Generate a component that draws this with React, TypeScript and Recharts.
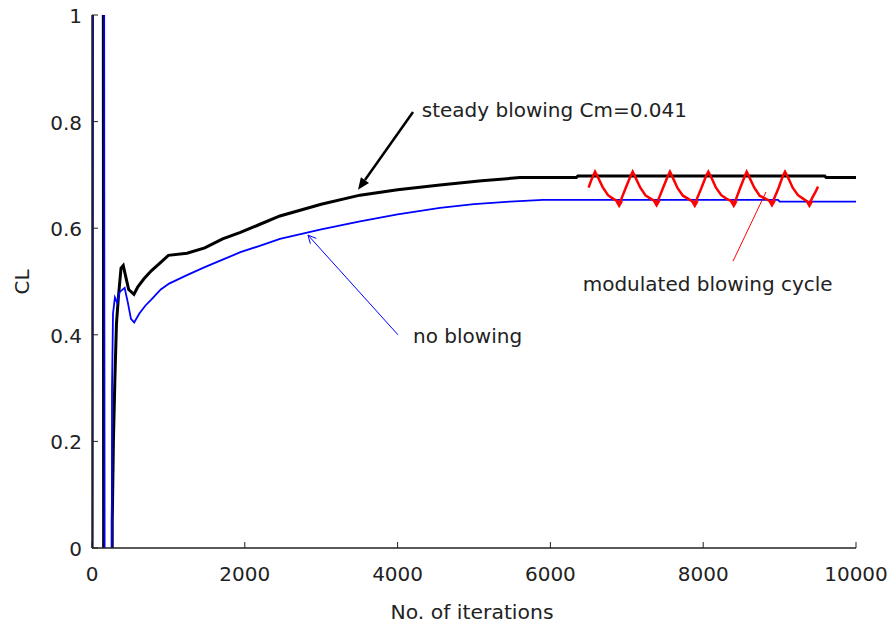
import React from 'react';
import { LineChart, Line, XAxis, YAxis, ReferenceLine, ReferenceDot } from 'recharts';

const FONT = '"DejaVu Sans", Verdana, sans-serif';
const INK = '#222';

const xTicks = [0, 2000, 4000, 6000, 8000, 10000];
const yTicks = [0, 0.2, 0.4, 0.6, 0.8, 1];

const steadyBlowing = [
  { it: 0, cl: -0.3 }, { it: 12, cl: 3 }, { it: 140, cl: 3 }, { it: 165, cl: -3 },
  { it: 250, cl: -2 }, { it: 265, cl: 0.05 }, { it: 280, cl: 0.2 }, { it: 300, cl: 0.32 },
  { it: 320, cl: 0.42 }, { it: 345, cl: 0.47 }, { it: 380, cl: 0.525 }, { it: 409, cl: 0.53 },
  { it: 440, cl: 0.51 }, { it: 480, cl: 0.485 }, { it: 549, cl: 0.476 }, { it: 600, cl: 0.49 },
  { it: 680, cl: 0.505 }, { it: 776, cl: 0.52 }, { it: 900, cl: 0.536 }, { it: 1000, cl: 0.549 },
  { it: 1243, cl: 0.553 }, { it: 1476, cl: 0.563 }, { it: 1710, cl: 0.58 }, { it: 1943, cl: 0.592 },
  { it: 2176, cl: 0.606 }, { it: 2460, cl: 0.623 }, { it: 3000, cl: 0.645 }, { it: 3508, cl: 0.662 },
  { it: 4000, cl: 0.672 }, { it: 4555, cl: 0.681 }, { it: 5100, cl: 0.689 }, { it: 5602, cl: 0.695 },
  { it: 6340, cl: 0.695 }, { it: 6360, cl: 0.698 }, { it: 9590, cl: 0.698 }, { it: 9610, cl: 0.695 },
  { it: 10000, cl: 0.695 },
];

const noBlowing = [
  { it: 0, cl: -0.3 }, { it: 15, cl: 3 }, { it: 150, cl: 3 }, { it: 178, cl: -3 },
  { it: 245, cl: -3 }, { it: 262, cl: 0.3 }, { it: 275, cl: 0.44 }, { it: 300, cl: 0.47 },
  { it: 330, cl: 0.46 }, { it: 360, cl: 0.48 }, { it: 427, cl: 0.488 }, { it: 470, cl: 0.46 },
  { it: 510, cl: 0.43 }, { it: 552, cl: 0.423 }, { it: 620, cl: 0.44 }, { it: 700, cl: 0.455 },
  { it: 776, cl: 0.466 }, { it: 900, cl: 0.485 }, { it: 1009, cl: 0.496 }, { it: 1243, cl: 0.512 },
  { it: 1476, cl: 0.527 }, { it: 1710, cl: 0.541 }, { it: 1943, cl: 0.555 }, { it: 2176, cl: 0.566 },
  { it: 2460, cl: 0.58 }, { it: 3000, cl: 0.598 }, { it: 3508, cl: 0.613 }, { it: 4000, cl: 0.626 },
  { it: 4555, cl: 0.638 }, { it: 5000, cl: 0.645 }, { it: 5471, cl: 0.65 }, { it: 5903, cl: 0.653 },
  { it: 8980, cl: 0.653 }, { it: 9000, cl: 0.65 }, { it: 10000, cl: 0.65 },
];

const modulatedBlowing = [
  { it: 6500, cl: 0.676 }, { it: 6540, cl: 0.692 }, { it: 6584, cl: 0.706 }, { it: 6624, cl: 0.695 },
  { it: 6684, cl: 0.677 }, { it: 6754, cl: 0.662 }, { it: 6824, cl: 0.655 }, { it: 6874, cl: 0.651 },
  { it: 6900, cl: 0.645 }, { it: 6929, cl: 0.655 }, { it: 6984, cl: 0.675 }, { it: 7044, cl: 0.696 },
  { it: 7077, cl: 0.706 }, { it: 7117, cl: 0.694 }, { it: 7177, cl: 0.676 }, { it: 7247, cl: 0.661 },
  { it: 7317, cl: 0.655 }, { it: 7367, cl: 0.651 }, { it: 7390, cl: 0.646 }, { it: 7420, cl: 0.656 },
  { it: 7475, cl: 0.676 }, { it: 7535, cl: 0.697 }, { it: 7565, cl: 0.706 }, { it: 7605, cl: 0.694 },
  { it: 7665, cl: 0.675 }, { it: 7735, cl: 0.661 }, { it: 7805, cl: 0.655 }, { it: 7860, cl: 0.65 },
  { it: 7890, cl: 0.645 }, { it: 7920, cl: 0.656 }, { it: 7975, cl: 0.675 }, { it: 8035, cl: 0.697 },
  { it: 8067, cl: 0.706 }, { it: 8107, cl: 0.695 }, { it: 8167, cl: 0.676 }, { it: 8237, cl: 0.662 },
  { it: 8307, cl: 0.655 }, { it: 8370, cl: 0.651 }, { it: 8400, cl: 0.645 }, { it: 8430, cl: 0.655 },
  { it: 8485, cl: 0.676 }, { it: 8540, cl: 0.696 }, { it: 8569, cl: 0.706 }, { it: 8609, cl: 0.694 },
  { it: 8669, cl: 0.676 }, { it: 8739, cl: 0.661 }, { it: 8809, cl: 0.656 }, { it: 8870, cl: 0.651 },
  { it: 8900, cl: 0.646 }, { it: 8930, cl: 0.656 }, { it: 8985, cl: 0.675 }, { it: 9040, cl: 0.697 },
  { it: 9071, cl: 0.706 }, { it: 9111, cl: 0.695 }, { it: 9171, cl: 0.676 }, { it: 9241, cl: 0.662 },
  { it: 9311, cl: 0.655 }, { it: 9365, cl: 0.65 }, { it: 9390, cl: 0.645 }, { it: 9420, cl: 0.655 },
  { it: 9470, cl: 0.668 }, { it: 9503, cl: 0.678 },
];

const modulatedTroughs = [6900, 7390, 7890, 8400, 8900, 9390];

const arrowSteady = [{ x: 4202, y: 0.818 }, { x: 3482, y: 0.672 }];
const arrowNone = [{ x: 4005, y: 0.4 }, { x: 2827, y: 0.587 }];
const arrowModulated = [{ x: 8390, y: 0.538 }, { x: 8822, y: 0.668 }];

const labelSteady = { text: 'steady blowing Cm=0.041', it: 4316, cl: 0.809 };
const labelNone = { text: 'no blowing', it: 4202, cl: 0.385 };
const labelModulated = { text: 'modulated blowing cycle', it: 6423, cl: 0.483 };

const BottomTick = (p: any) => (
  <g>
    <line x1={p.x} y1={p.y} x2={p.x} y2={p.y - 6} stroke={INK} strokeWidth={1} />
    <text x={p.x} y={p.y + 33} textAnchor="middle" fontSize={20} fontFamily={FONT} fill={INK}>
      {String(p.payload.value)}
    </text>
  </g>
);
const TopTick = (p: any) => (
  <line x1={p.x} y1={p.y} x2={p.x} y2={p.y + 6} stroke={INK} strokeWidth={1} />
);
const LeftTick = (p: any) => (
  <g>
    <line x1={p.x} y1={p.y} x2={p.x + 6} y2={p.y} stroke={INK} strokeWidth={1} />
    <text x={p.x - 10} y={p.y + 8} textAnchor="end" fontSize={20} fontFamily={FONT} fill={INK}>
      {String(p.payload.value)}
    </text>
  </g>
);
const RightTick = (p: any) => (
  <line x1={p.x} y1={p.y} x2={p.x - 6} y2={p.y} stroke={INK} strokeWidth={1} />
);

const makeArrow = (color: string, width: number, head: 'filled' | 'open' | 'none') => (p: any) => {
  const { x1, y1, x2, y2 } = p;
  const ang = Math.atan2(y2 - y1, x2 - x1);
  const L = head === 'filled' ? 12 : 8;
  const W = head === 'filled' ? 5 : 4;
  const bx = x2 - L * Math.cos(ang);
  const by = y2 - L * Math.sin(ang);
  const nx = -Math.sin(ang) * W;
  const ny = Math.cos(ang) * W;
  return (
    <g>
      <line x1={x1} y1={y1} x2={head === 'filled' ? bx : x2} y2={head === 'filled' ? by : y2} stroke={color} strokeWidth={width} />
      {head === 'filled' && (
        <polygon points={`${x2},${y2} ${bx + nx},${by + ny} ${bx - nx},${by - ny}`} fill={color} />
      )}
      {head === 'open' && (
        <polyline points={`${bx + nx},${by + ny} ${x2},${y2} ${bx - nx},${by - ny}`} fill="none" stroke={color} strokeWidth={width} />
      )}
    </g>
  );
};

const makeText = (text: string) => (p: any) => (
  <text x={p.cx} y={p.cy} fontSize={20} fontFamily={FONT} fill={INK}>
    {text}
  </text>
);

const TroughDot = (p: any) => {
  if (!p.payload || !modulatedTroughs.includes(p.payload.it)) return <g key={p.index} />;
  const { cx, cy } = p;
  return (
    <polygon key={p.index} points={`${cx - 4},${cy - 3} ${cx + 4},${cy - 3} ${cx},${cy + 4}`} fill="#ff0000" />
  );
};

export default function App() {
  return (
    <div style={{ position: 'absolute', left: 0, top: 0, width: 889, height: 628, background: '#fff' }}>
      <LineChart width={889} height={628} margin={{ top: 15, right: 33, left: 0, bottom: 0 }}>
        <XAxis
          xAxisId="b"
          dataKey="it"
          type="number"
          domain={[0, 10000]}
          ticks={xTicks}
          allowDataOverflow
          height={80}
          tickSize={0}
          tickMargin={0}
          tickLine={false}
          tick={BottomTick}
          axisLine={{ stroke: INK, strokeWidth: 1.5 }}
          interval={0}
          label={(props: any) => (
            <text x={472} y={619} textAnchor="middle" fontSize={20} fontFamily={FONT} fill={INK} textLength={163} lengthAdjust="spacingAndGlyphs">
              No. of iterations
            </text>
          )}
        />
        <XAxis
          xAxisId="t"
          orientation="top"
          dataKey="it"
          type="number"
          domain={[0, 10000]}
          ticks={xTicks}
          height={0}
          tickSize={0}
          tickMargin={0}
          tickLine={false}
          tick={TopTick}
          axisLine={{ stroke: INK, strokeWidth: 1.5 }}
          interval={0}
        />
        <YAxis
          yAxisId="l"
          type="number"
          domain={[0, 1]}
          ticks={yTicks}
          allowDataOverflow
          width={92}
          tickSize={0}
          tickMargin={0}
          tickLine={false}
          tick={LeftTick}
          axisLine={{ stroke: INK, strokeWidth: 1.5 }}
          interval={0}
          label={(props: any) => (
            <text x={29} y={282} textAnchor="middle" fontSize={20} fontFamily={FONT} fill={INK} transform="rotate(-90 29 282)">
              CL
            </text>
          )}
        />
        <YAxis
          yAxisId="r"
          orientation="right"
          type="number"
          domain={[0, 1]}
          ticks={yTicks}
          width={0}
          tickSize={0}
          tickMargin={0}
          tickLine={false}
          tick={RightTick}
          axisLine={{ stroke: INK, strokeWidth: 1.5 }}
          interval={0}
        />
        <Line
          xAxisId="b"
          yAxisId="l"
          data={steadyBlowing}
          dataKey="cl"
          type="linear"
          stroke="#000000"
          strokeWidth={3}
          dot={false}
          isAnimationActive={false}
        />
        <Line
          xAxisId="b"
          yAxisId="l"
          data={noBlowing}
          dataKey="cl"
          type="linear"
          stroke="#0000ff"
          strokeWidth={1.8}
          dot={false}
          isAnimationActive={false}
        />
        <Line
          xAxisId="b"
          yAxisId="l"
          data={modulatedBlowing}
          dataKey="cl"
          type="linear"
          stroke="#ff0000"
          strokeWidth={2.5}
          dot={TroughDot}
          isAnimationActive={false}
        />
        <ReferenceLine xAxisId="b" yAxisId="l" segment={arrowSteady} shape={makeArrow('#000000', 2.5, 'filled')} />
        <ReferenceLine xAxisId="b" yAxisId="l" segment={arrowNone} shape={makeArrow('#0000ff', 1, 'open')} />
        <ReferenceLine xAxisId="b" yAxisId="l" segment={arrowModulated} shape={makeArrow('#ff0000', 1, 'none')} />
        <ReferenceDot xAxisId="b" yAxisId="l" x={labelSteady.it} y={labelSteady.cl} r={0} shape={makeText(labelSteady.text)} />
        <ReferenceDot xAxisId="b" yAxisId="l" x={labelNone.it} y={labelNone.cl} r={0} shape={makeText(labelNone.text)} />
        <ReferenceDot xAxisId="b" yAxisId="l" x={labelModulated.it} y={labelModulated.cl} r={0} shape={makeText(labelModulated.text)} />
      </LineChart>
    </div>
  );
}
